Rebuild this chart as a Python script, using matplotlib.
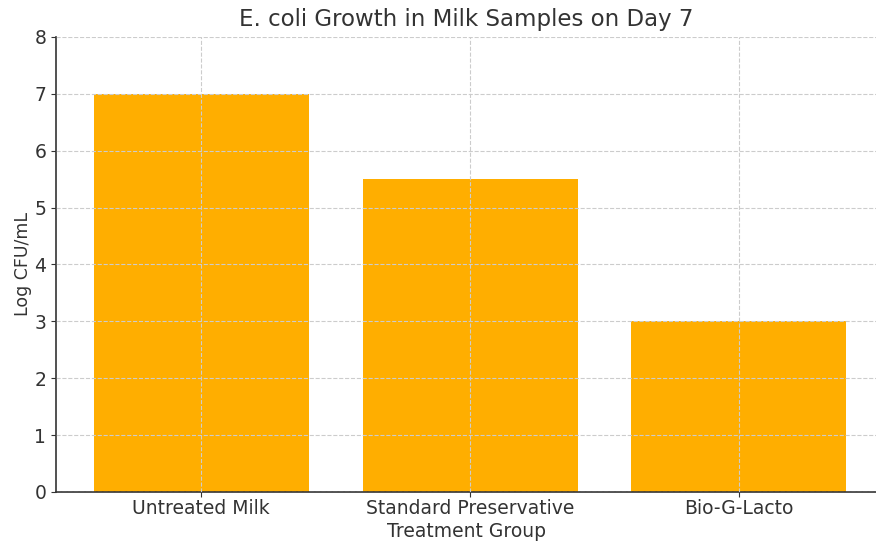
import matplotlib
matplotlib.use("Agg")
import matplotlib.pyplot as plt

groups = ["Untreated Milk", "Standard Preservative", "Bio-G-Lacto"]
log_cfu = [7.0, 5.5, 3.0]

text_color = "#333333"
plt.rcParams["font.family"] = "DejaVu Sans"

fig = plt.figure(figsize=(8.76, 5.43), dpi=100)
ax = fig.add_axes([0.064, 0.094, 0.936, 0.838])

ax.bar(groups, log_cfu, width=0.8, color="#FFAE00", zorder=2)

ax.set_xlim(-0.54, 2.51)
ax.set_ylim(0, 8)
ax.set_title("E. coli Growth in Milk Samples on Day 7", fontsize=16.5, color=text_color, pad=8)
ax.set_xlabel("Treatment Group", fontsize=13.5, color=text_color, labelpad=3)
ax.set_ylabel("Log CFU/mL", fontsize=12.5, color=text_color, labelpad=2)
ax.tick_params(labelsize=13.5, colors=text_color)
ax.tick_params(axis="x", pad=1.5)

ax.grid(True, linestyle="--", color="#cccccc", linewidth=0.8, zorder=3)
ax.set_axisbelow(False)
for side in ["top", "right"]:
    ax.spines[side].set_visible(False)
for side in ["left", "bottom"]:
    ax.spines[side].set_color(text_color)
    ax.spines[side].set_linewidth(1.2)

fig.savefig("out.png", dpi=100)
